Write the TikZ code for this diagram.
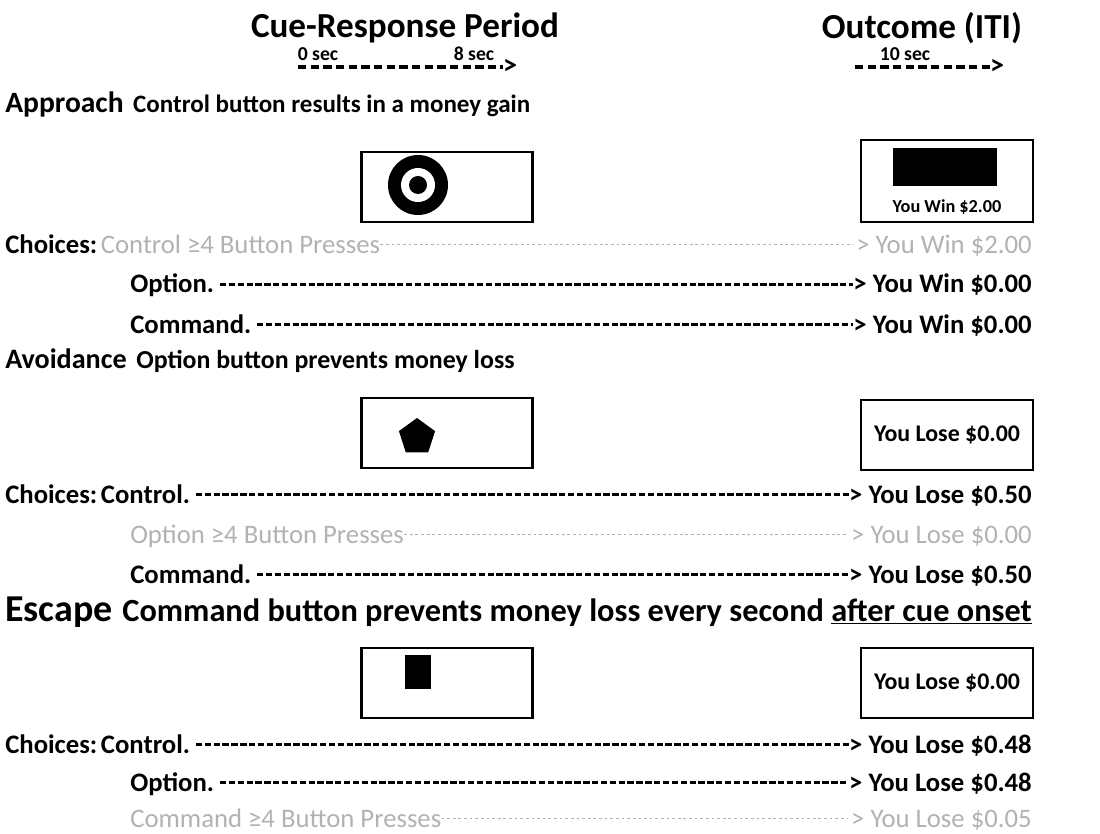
\documentclass[tikz,border=0pt]{standalone}
\usepackage{fontspec}
\setmainfont{Carlito}
\usetikzlibrary{positioning,shapes.geometric}
\tikzset{
  hdr/.style={font=\fontsize{25}{29}\selectfont\bfseries,inner sep=0pt},
  secl/.style={font=\fontsize{14}{16}\selectfont\bfseries,inner sep=0pt},
  tip/.style={font=\fontsize{20}{22}\selectfont\bfseries,inner sep=0pt},
  cond/.style={font=\fontsize{21}{25}\selectfont\bfseries,anchor=base west,inner sep=0pt},
  desc/.style={font=\fontsize{17.8}{20}\selectfont\bfseries,anchor=base west,inner sep=0pt},
  choice/.style={font=\fontsize{19}{22}\selectfont\bfseries,anchor=base west,inner sep=0pt},
  outc/.style={choice,anchor=base east},
  pressed/.style={font=\fontsize{19}{22}\selectfont,text=black!30,anchor=base west,inner sep=0pt},
  pressout/.style={pressed,anchor=base east},
  cuebox/.style={draw,line width=2pt,minimum width=4.275cm,minimum height=1.75cm,inner sep=0pt},
  outbox/.style={draw,line width=2pt,minimum width=4.3cm,minimum height=1.75cm,inner sep=0pt,
    font=\fontsize{17}{20}\selectfont\bfseries},
  lead/.style={line width=1.6pt,dash pattern=on 4.5pt off 1.8pt},
  faint/.style={black!30,line width=1pt,dash pattern=on 2pt off 2pt},
  timeline/.style={line width=2.2pt,dash pattern=on 6pt off 3pt},
}
\begin{document}
\begin{tikzpicture}[x=0.025cm,y=-0.025cm]
  \useasboundingbox (0,0) rectangle (1100,834);
  % column heads
  \node[hdr] (crp) at (405,28) {Cue-Response Period};
  \node[hdr] (iti) at (922,28) {Outcome (ITI)};
  \node[secl] (t0) at (318,54) {0 sec};
  \node[secl] (t8) at (474,54) {8 sec};
  \node[secl] (t10) at (905,54) {10 sec};
  \coordinate (crs) at (298,67);
  \node[tip] (crend) at (510,67) {>};
  \draw[timeline] (crs) -- (crend.west);
  \coordinate (itis) at (855,67);
  \node[tip] (itiend) at (997,67) {>};
  \draw[timeline] (itis) -- (itiend.west);

  % Approach
  \node[cond] (appr) at (5,113) {Approach};
  \node[desc,right=2.25mm of appr.base east,anchor=base west] (apprd) {Control button results in a money gain};
  \node[cuebox] (cue1) at (447,187) {};
  \node[circle,fill=black,minimum size=1.5cm,inner sep=0pt] (tgt) at (418,185) {};
  \node[circle,fill=white,minimum size=0.85cm,inner sep=0pt] (tgtw) at (tgt) {};
  \node[circle,fill=black,minimum size=0.45cm,inner sep=0pt] (tgtc) at (tgt) {};
  \node[outbox,minimum height=2.05cm] (out1) at (947,181) {};
  \node[fill=black,minimum width=2.6cm,minimum height=0.95cm,inner sep=0pt] (img1) at (945,167) {};
  \node[font=\fontsize{13}{15}\selectfont\bfseries,inner sep=0pt] (win1) at (947,207) {You Win \$2.00};
  \node[choice] (ch1) at (5,253) {Choices:};
  \node[pressed,right=0.75mm of ch1.base east,anchor=base west] (ap1) {Control ≥4 Button Presses};
  \node[pressout] (ar1) at (1032,253) {> You Win \$2.00};
  \draw[faint] ([yshift=6pt]ap1.base east) -- ([yshift=6pt,xshift=-2pt]ar1.base west);
  \node[choice] (ap2) at (130,293) {Option.};
  \node[outc] (ar2) at (1032,293) {> You Win \$0.00};
  \draw[lead] ([yshift=6pt,xshift=4pt]ap2.base east) -- ([yshift=6pt]ar2.base west);
  \node[choice] (ap3) at (130,333) {Command.};
  \node[outc] (ar3) at (1032,333) {> You Win \$0.00};
  \draw[lead] ([yshift=6pt,xshift=4pt]ap3.base east) -- ([yshift=6pt]ar3.base west);

  % Avoidance
  \node[cond,font=\fontsize{20}{24}\selectfont\bfseries] (avoid) at (5,368) {Avoidance};
  \node[desc,font=\fontsize{18.4}{21}\selectfont\bfseries,right=2.25mm of avoid.base east,anchor=base west] (avoidd) {Option button prevents money loss};
  \node[cuebox] (cue2) at (447,433) {};
  \node[regular polygon,regular polygon sides=5,fill=black,minimum size=0.95cm,inner sep=0pt] (pent) at (417,437) {};
  \node[outbox] (out2) at (947,435) {You Lose \$0.00};
  \node[choice] (ch2) at (5,503) {Choices:};
  \node[choice,right=0.75mm of ch2.base east,anchor=base west] (av1) {Control.};
  \node[outc] (vr1) at (1032,503) {> You Lose \$0.50};
  \draw[lead] ([yshift=6pt,xshift=4pt]av1.base east) -- ([yshift=6pt]vr1.base west);
  \node[pressed] (av2) at (130,543) {Option ≥4 Button Presses};
  \node[pressout] (vr2) at (1032,543) {> You Lose \$0.00};
  \draw[faint] ([yshift=6pt]av2.base east) -- ([yshift=6pt,xshift=-2pt]vr2.base west);
  \node[choice] (av3) at (130,583) {Command.};
  \node[outc] (vr3) at (1032,583) {> You Lose \$0.50};
  \draw[lead] ([yshift=6pt,xshift=4pt]av3.base east) -- ([yshift=6pt]vr3.base west);

  % Escape
  \node[cond,font=\fontsize{27}{31}\selectfont\bfseries] (esc) at (5,621) {Escape};
  \node[desc,font=\fontsize{23}{26}\selectfont\bfseries,right=2.25mm of esc.base east,anchor=base west] (escd) {Command button prevents money loss every second \underline{after cue onset}};
  \node[cuebox] (cue3) at (447,683) {};
  \node[fill=black,minimum width=0.65cm,minimum height=0.85cm,inner sep=0pt] (sq) at (418,672) {};
  \node[outbox] (out3) at (947,683) {You Lose \$0.00};
  \node[choice] (ch3) at (5,753) {Choices:};
  \node[choice,right=0.75mm of ch3.base east,anchor=base west] (es1) {Control.};
  \node[outc] (er1) at (1032,753) {> You Lose \$0.48};
  \draw[lead] ([yshift=6pt,xshift=4pt]es1.base east) -- ([yshift=6pt]er1.base west);
  \node[choice] (es2) at (130,791) {Option.};
  \node[outc] (er2) at (1032,791) {> You Lose \$0.48};
  \draw[lead] ([yshift=6pt,xshift=4pt]es2.base east) -- ([yshift=6pt]er2.base west);
  \node[pressed] (es3) at (130,827) {Command ≥4 Button Presses};
  \node[pressout] (er3) at (1032,827) {> You Lose \$0.05};
  \draw[faint] ([yshift=6pt]es3.base east) -- ([yshift=6pt,xshift=-2pt]er3.base west);
\end{tikzpicture}
\end{document}
